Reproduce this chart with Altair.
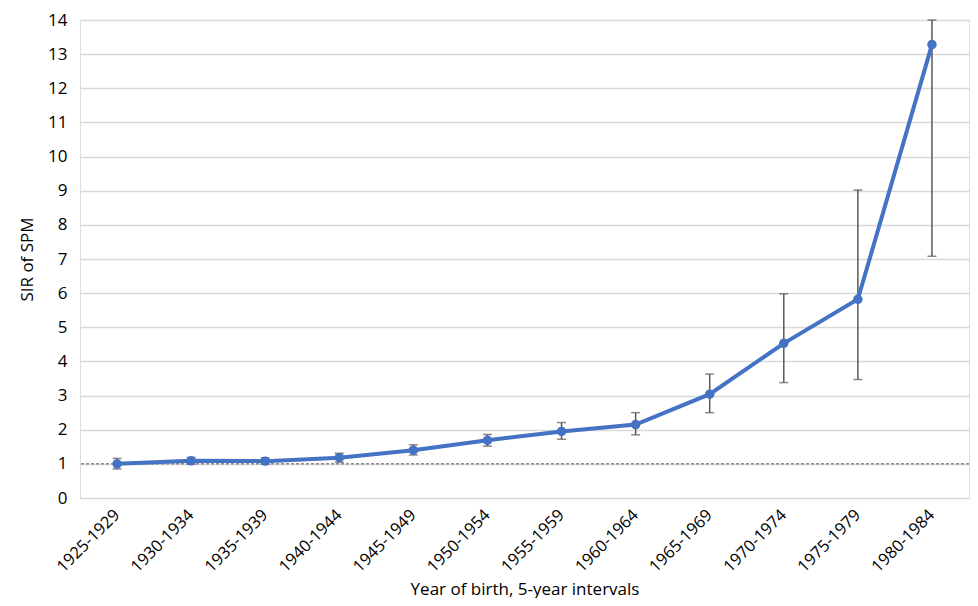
import altair as alt
import pandas as pd

periods = ["1925-1929", "1930-1934", "1935-1939", "1940-1944", "1945-1949", "1950-1954",
           "1955-1959", "1960-1964", "1965-1969", "1970-1974", "1975-1979", "1980-1984"]
sir = [1.00, 1.09, 1.08, 1.18, 1.40, 1.69, 1.95, 2.15, 3.04, 4.53, 5.82, 13.28]
lower = [0.85, 0.99, 0.99, 1.05, 1.26, 1.52, 1.72, 1.85, 2.50, 3.38, 3.47, 7.08]
upper = [1.16, 1.19, 1.18, 1.31, 1.56, 1.86, 2.21, 2.50, 3.63, 5.98, 9.02, 14.0]
y_ticks = list(range(0, 15))
ref_value = [1]

df = pd.DataFrame({"period": periods, "sir": sir, "lower": lower, "upper": upper})
ref = pd.DataFrame({"y": ref_value})

FONT = "Open Sans"
BLUE = "#4472C4"
GREY = "#595959"

x_axis = alt.Axis(title="Year of birth, 5-year intervals", labelAngle=-45,
                  labelAlign="right", labelBaseline="middle",
                  labelPadding=14, ticks=False, domain=False, grid=False,
                  labelFontSize=16.5, titleFontSize=17, titleY=96,
                  titleBaseline="alphabetic",
                  labelColor="#000000", titleColor="#000000",
                  labelOverlap=False, titleFontWeight="normal")
y_axis = alt.Axis(title="SIR of SPM", values=y_ticks, ticks=False,
                  domain=False, gridColor="#d9d9d9", gridWidth=1.5,
                  labelFontSize=17, titleFontSize=17, labelPadding=13,
                  labelOverlap=False, labelFlush=False,
                  titleX=-44, labelColor="#000000", titleColor="#000000",
                  titleFontWeight="normal")
x_scale = alt.Scale(paddingInner=0, paddingOuter=0)
y_scale = alt.Scale(domain=[0, 14], nice=False)


def X():
    return alt.X("period:N", sort=periods, scale=x_scale, axis=x_axis)


def Y(field):
    return alt.Y(field, type="quantitative", scale=y_scale, axis=y_axis)


base = alt.Chart(df)

rule = base.mark_rule(color=GREY, strokeWidth=1.5).encode(
    x=X(), y=Y("lower"), y2="upper:Q")
cap_lo = base.mark_tick(color=GREY, thickness=1.5, size=9).encode(x=X(), y=Y("lower"))
cap_hi = base.mark_tick(color=GREY, thickness=1.5, size=9).encode(x=X(), y=Y("upper"))

refline = alt.Chart(ref).mark_rule(color=GREY, strokeWidth=1, strokeDash=[3, 2]).encode(
    y=Y("y"))

line = base.mark_line(color=BLUE, strokeWidth=4).encode(x=X(), y=Y("sir"))
points = base.mark_point(color=BLUE, filled=True, opacity=1, size=90).encode(
    x=X(), y=Y("sir"))

chart = alt.layer(refline, rule, cap_lo, cap_hi, line, points).properties(
    width=889, height=478,
    padding={"left": 72, "top": 12, "right": 1, "bottom": 100},
    autosize=alt.AutoSizeParams(type="none"),
).configure_view(stroke=None).configure(font=FONT)

chart.save("out.html", embed_options={"renderer": "svg", "actions": False})
